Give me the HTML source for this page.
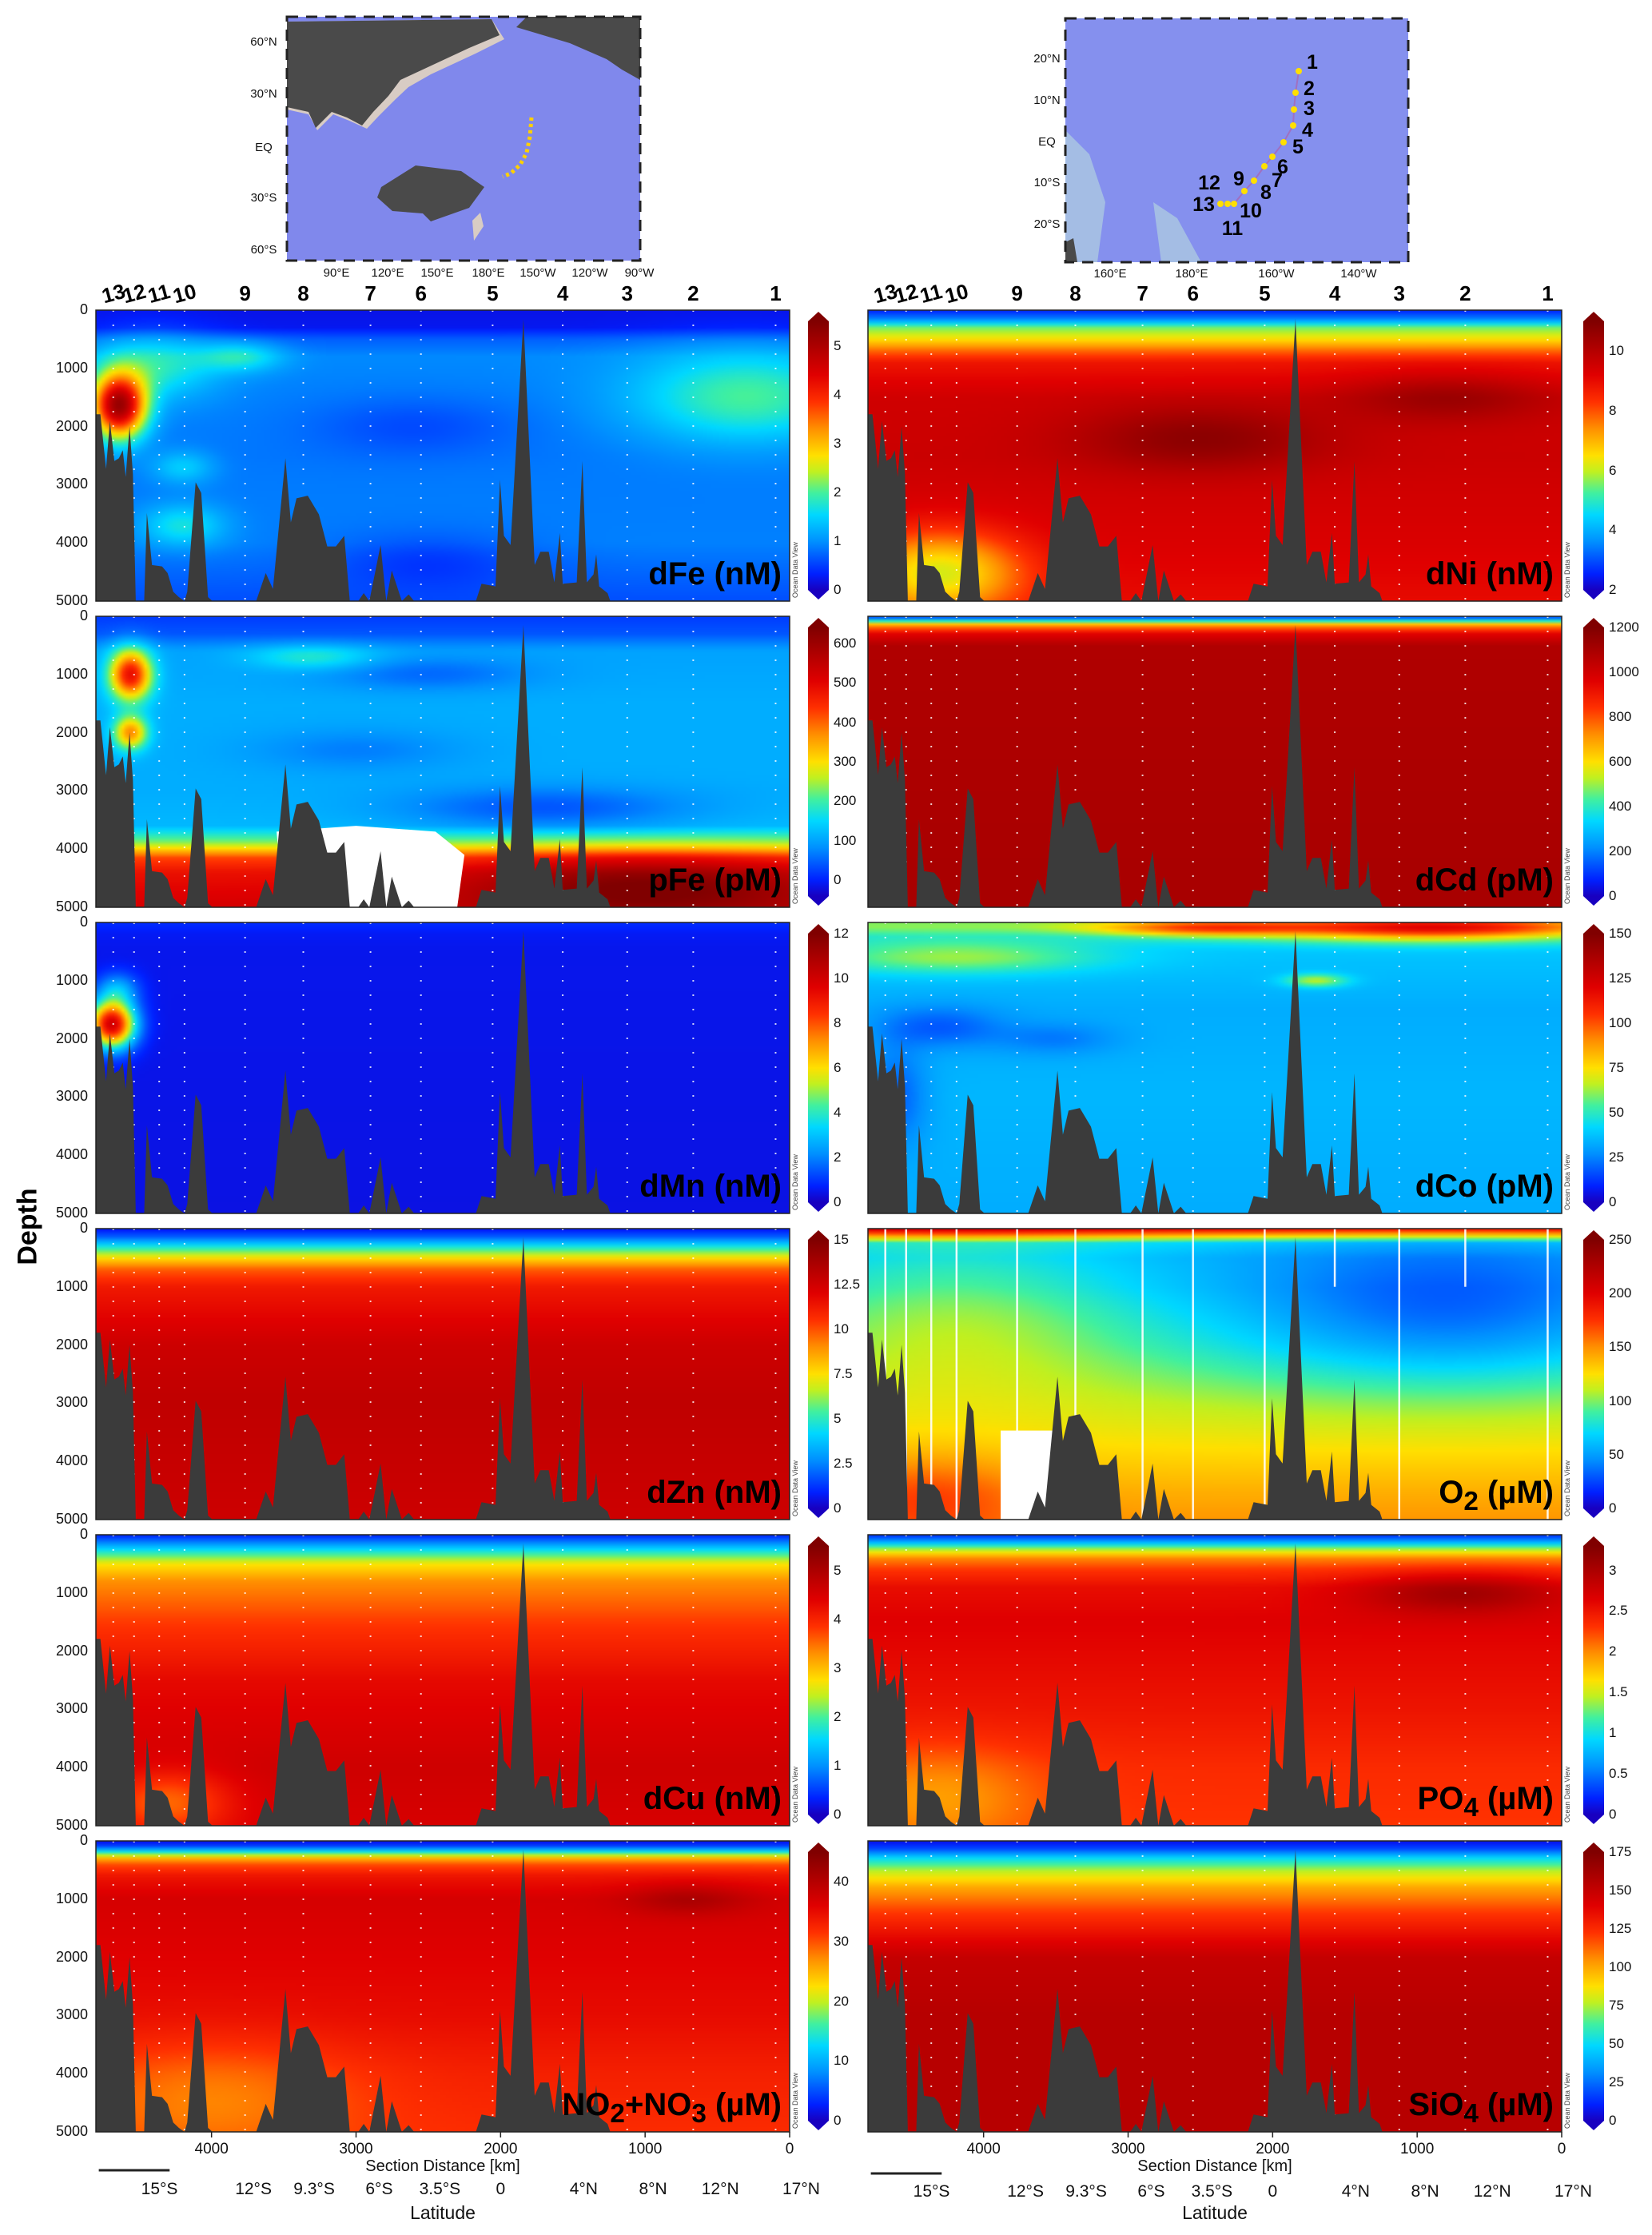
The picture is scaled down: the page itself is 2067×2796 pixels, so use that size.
<!DOCTYPE html>
<html><head><meta charset="utf-8">
<style>
body{margin:0;background:#fff;}
#root{position:relative;width:2067px;height:2796px;overflow:hidden;background:#fff;font-family:"Liberation Sans",Arial,sans-serif;}
.abs{position:absolute;}
.tick{position:absolute;font-size:18px;color:#111;}
.plabel{position:absolute;font-weight:bold;font-size:40px;color:#000;white-space:nowrap;}
.cb{position:absolute;}
.stn{position:absolute;font-weight:bold;font-size:26px;color:#000;}
.odv{position:absolute;font-size:9px;color:#444;transform:rotate(-90deg);transform-origin:left top;white-space:nowrap;}
</style></head>
<body>
<div id="root">
<svg id="maps" class="abs" style="left:0;top:0" width="2067" height="360"></svg>
<svg id="ov" class="abs" style="left:0;top:0;z-index:3" width="2067" height="2796"></svg>
</div>
<script>
// ---------- data ----------
const stations=[4680,4536,4362,4187,3768,3365,2900,2551,2055,1570,1124,667,97];
const stationLabels=['13','12','11','10','9','8','7','6','5','4','3','2','1'];
const bathyDist=[4800,4800,4769,4730,4703,4672,4641,4614,4594,4567,4544,4524,4466,4447,4412,4342,4304,4265,4226,4187,4168,4110,4071,4024,3993,3691,3625,3575,3489,3451,3412,3334,3257,3199,3140,3082,3043,2985,2947,2908,2830,2791,2753,2683,2636,2598,2171,2132,2035,2004,1977,1931,1842,1764,1725,1667,1628,1590,1570,1473,1434,1403,1357,1338,1318,1260,1241];
const bathyDepth=[5000,1789,1789,2729,1904,2592,2546,2408,2867,1995,2821,5000,5000,3486,4381,4404,4518,4839,4931,5000,4839,2959,3142,4931,5000,5000,4518,4793,2546,3647,3234,3188,3509,4060,4060,3876,5000,5000,4862,5000,4037,5000,4472,5000,4885,5000,5000,4702,4747,2913,3876,4037,150,4381,4151,4151,4679,3830,4702,4679,2592,4679,4541,4197,4747,4862,5000];
const depthTicks=[0,1000,2000,3000,4000,5000];
const distTicks=[4000,3000,2000,1000,0];
const latLabels=['15°S','12°S','9.3°S','6°S','3.5°S','0','4°N','8°N','12°N','17°N'];
const latDist=[4360,3710,3290,2840,2420,2000,1425,945,480,-80];

const dFeZ=[0,300,500,800,1500,2500,4000,5000], dFeV=[0.2,0.25,0.7,0.95,0.9,0.85,0.9,0.6];
const dFeBlobs=[[4640,1650,130,380,4.2],[4400,950,300,400,0.9],[3800,800,200,180,0.8],[4200,2700,150,200,0.6],[4200,3700,200,250,0.8],[300,1500,550,550,1.1],[2600,2000,500,350,-0.3],[2500,4300,500,350,-0.35]];
const pFeZ=[0,300,600,1500,3000,3600,3900,4150,4400,5000], pFeV=[20,40,100,110,110,120,240,420,480,520];
const pFeBlobs=[[4560,1000,100,300,380],[4560,2000,80,200,260],[3300,700,300,150,80],[1700,3300,700,250,-75],[2500,1000,500,200,-50],[1000,4650,900,400,150],[3000,2300,500,250,-40]];
const dMnZ=[0,200,500,5000], dMnV=[0.9,0.6,0.5,0.4];
const dMnBlobs=[[4690,1750,110,280,9.5],[4650,1150,100,200,2]];
const dZnZ=[0,150,300,500,700,1000,2000,3000,5000], dZnV=[0.6,2,4.5,7.5,9.8,11.2,12.6,13,12.6];
const dZnBlobs=[];
const dCuZ=[0,150,300,500,800,1500,2500,4000,5000], dCuV=[0.3,1.0,1.8,2.7,3.3,3.8,4.3,4.6,4.5];
const dCuBlobs=[[4300,4600,300,400,-1.0]];
const no3Z=[0,100,200,300,400,600,1000,2000,3000,4000,5000], no3V=[1,5,15,25,30,34,37,36,35,33,32];
const no3Blobs=[[4000,4400,700,700,-5],[700,1000,300,200,4]];
const dNiZ=[0,150,300,500,700,900,1500,2500,4000,5000], dNiV=[2.5,3.5,5.5,6.5,7.8,8.8,9.5,9.6,9.3,9];
const dNiBlobs=[[2500,2200,600,400,1.2],[800,1500,500,300,1.0],[4300,4500,400,500,-3]];
const dCdZ=[0,60,150,300,500,5000], dCdV=[50,300,700,950,1080,1100];
const dCdBlobs=[];
const dCoZ=[0,100,250,500,1500,3000,5000], dCoV=[60,60,45,38,33,35,33];
const dCoBlobs=[[900,100,800,150,60],[2500,100,500,100,40],[1700,1000,150,80,30],[4300,1800,300,250,-15],[3500,2000,300,200,-10],[4600,3000,150,600,-15],[4200,600,700,200,25]];
const o2Z=[0,100,250,500,1000,2000,3000,4000,4500,5000], o2V=[205,150,70,60,65,85,110,130,140,148];
const o2Blobs=[[800,1500,1000,900,-40],[4200,1500,800,1000,30],[4400,4600,500,500,30]];
const po4Z=[0,100,250,400,600,900,1500,3000,4000,5000], po4V=[0.2,0.6,1.4,2.0,2.3,2.55,2.65,2.5,2.35,2.3];
const po4Blobs=[[700,1000,500,250,0.5],[4300,4500,500,600,-0.4]];
const siZ=[0,150,300,500,800,1200,2000,3000,5000], siV=[5,20,50,75,100,120,150,155,155];
const siBlobs=[];

const cbTicks={
 dFe:[0,1,2,3,4,5], pFe:[0,100,200,300,400,500,600], dMn:[0,2,4,6,8,10,12], dZn:[0,2.5,5,7.5,10,12.5,15],
 dCu:[0,1,2,3,4,5], no3:[0,10,20,30,40], dNi:[2,4,6,8,10], dCd:[0,200,400,600,800,1000,1200],
 dCo:[0,25,50,75,100,125,150], o2:[0,50,100,150,200,250], po4:[0,0.5,1,1.5,2,2.5,3], si:[0,25,50,75,100,125,150,175]};

const panels=[
 {id:'dFe',col:0,row:0,min:0,max:5.5,z:dFeZ,v:dFeV,b:dFeBlobs,label:'dFe (nM)'},
 {id:'pFe',col:0,row:1,min:-40,max:640,z:pFeZ,v:pFeV,b:pFeBlobs,label:'pFe (pM)'},
 {id:'dMn',col:0,row:2,min:0,max:12,z:dMnZ,v:dMnV,b:dMnBlobs,label:'dMn (nM)'},
 {id:'dZn',col:0,row:3,min:0,max:15,z:dZnZ,v:dZnV,b:dZnBlobs,label:'dZn (nM)'},
 {id:'dCu',col:0,row:4,min:0,max:5.5,z:dCuZ,v:dCuV,b:dCuBlobs,label:'dCu (nM)'},
 {id:'no3',col:0,row:5,min:0,max:45,z:no3Z,v:no3V,b:no3Blobs,label:'NO<sub>2</sub>+NO<sub>3</sub> (µM)'},
 {id:'dNi',col:1,row:0,min:2,max:11,z:dNiZ,v:dNiV,b:dNiBlobs,label:'dNi (nM)'},
 {id:'dCd',col:1,row:1,min:0,max:1200,z:dCdZ,v:dCdV,b:dCdBlobs,label:'dCd (pM)'},
 {id:'dCo',col:1,row:2,min:0,max:150,z:dCoZ,v:dCoV,b:dCoBlobs,label:'dCo (pM)'},
 {id:'o2',col:1,row:3,min:0,max:250,z:o2Z,v:o2V,b:o2Blobs,label:'O<sub>2</sub> (µM)'},
 {id:'po4',col:1,row:4,min:0,max:3.3,z:po4Z,v:po4V,b:po4Blobs,label:'PO<sub>4</sub> (µM)'},
 {id:'si',col:1,row:5,min:0,max:175,z:siZ,v:siV,b:siBlobs,label:'SiO<sub>4</sub> (µM)'}];

const colX=[120,1086], cbX=[1011,1981], W=868, H=364, rowTop=[388,771,1154,1537,1920,2303];
const cmap=[[0,[24,0,192]],[0.06,[0,32,255]],[0.18,[0,144,255]],[0.28,[0,216,255]],[0.36,[64,240,160]],[0.44,[192,240,32]],[0.5,[255,224,0]],[0.6,[255,144,0]],[0.7,[255,48,0]],[0.8,[224,0,0]],[0.9,[176,0,0]],[1,[128,0,0]]];
function col(t){t=Math.max(0,Math.min(1,t));for(let i=1;i<cmap.length;i++){if(t<=cmap[i][0]){const a=cmap[i-1],b=cmap[i],f=(t-a[0])/(b[0]-a[0]);return [0,1,2].map(k=>Math.round(a[1][k]+f*(b[1][k]-a[1][k])));}}return cmap[cmap.length-1][1];}
function interp(zs,vs,z){if(z<=zs[0])return vs[0];for(let i=1;i<zs.length;i++){if(z<=zs[i]){const f=(z-zs[i-1])/(zs[i]-zs[i-1]);return vs[i-1]+f*(vs[i]-vs[i-1]);}}return vs[vs.length-1];}
const xs=(c,d)=>colX[c]+(4800-d)/4800*W;
const ys=(r,z)=>rowTop[r]+z/5000*H;
const NS='http://www.w3.org/2000/svg';
const root=document.getElementById('root'), ov=document.getElementById('ov');
function svgEl(tag,attrs,parent){const e=document.createElementNS(NS,tag);for(const k in attrs)e.setAttribute(k,attrs[k]);(parent||ov).appendChild(e);return e;}
function div(cls,style,html){const e=document.createElement('div');e.className=cls;e.style.cssText=style;if(html!==undefined)e.innerHTML=html;root.appendChild(e);return e;}

panels.forEach(p=>{
 const L=colX[p.col], T=rowTop[p.row];
 const cw=217,ch=91;
 const cv=document.createElement('canvas');cv.width=cw;cv.height=ch;
 cv.style.cssText=`position:absolute;left:${L}px;top:${T}px;width:${W}px;height:${H}px;z-index:1`;
 
 
 const ctx=cv.getContext('2d');const img=ctx.createImageData(cw,ch);
 for(let j=0;j<ch;j++){const z=(j+0.5)/ch*5000;const base=interp(p.z,p.v,z);
  for(let i=0;i<cw;i++){const d=4800-(i+0.5)/cw*4800;let v=base;
   for(const b of p.b){const dx=(d-b[0])/b[2],dz=(z-b[1])/b[3];v+=b[4]*Math.exp(-0.5*(dx*dx+dz*dz));}
   const c=col((v-p.min)/(p.max-p.min));const o=(j*cw+i)*4;img.data[o]=c[0];img.data[o+1]=c[1];img.data[o+2]=c[2];img.data[o+3]=255;}}
 ctx.putImageData(img,0,0);root.appendChild(cv);

 const g=svgEl('g',{});
 
 
 if(p.id==='pFe'){const pts=[[3550,3700],[3000,3600],[2450,3700],[2250,4100],[2300,5000],[3500,5000]].map(q=>xs(p.col,q[0])+','+ys(p.row,q[1])).join(' ');
  const e=svgEl('polygon',{points:pts,fill:'#fff'},g);}
 if(p.id==='o2'){const e=svgEl('rect',{x:xs(1,3882),y:ys(p.row,3470),width:xs(1,3517)-xs(1,3882),height:ys(p.row,5000)-ys(p.row,3470),fill:'#fff'},g);}
 stations.forEach((s,k)=>{const x=xs(p.col,s);
  const e=(p.id==='o2')?svgEl('line',{x1:x,x2:x,y1:T,y2:T+H*((k===9||k===11)?0.2:1),stroke:'#fff','stroke-width':2.5,opacity:0.9},g)
   :svgEl('line',{x1:x,x2:x,y1:T,y2:T+H,stroke:'#fff','stroke-width':2,'stroke-dasharray':'2 16',opacity:0.8},g);
  });
 const bp=bathyDist.map((d,i)=>xs(p.col,d).toFixed(1)+','+ys(p.row,bathyDepth[i]).toFixed(1)).join(' ');
 const bt=svgEl('polygon',{points:bp,fill:'#3b3b3b'},g);
 
 const fr=svgEl('rect',{x:L,y:T,width:W,height:H,fill:'none',stroke:'#222','stroke-width':1.5},g);
 
 if(p.col===0){depthTicks.forEach(z=>{const t=div('tick',`left:${L-70}px;top:${ys(p.row,z)-11}px;width:60px;text-align:right;z-index:4`,String(z));
  });}
 const lb=div('plabel',`right:${2067-(L+W-10)}px;top:${T+H-56}px;z-index:5`,p.label);
 
 const od=div('odv',`left:${L+W+2}px;top:${T+H-4}px;z-index:5`,'Ocean Data View');
 
 const cx=cbX[p.col],ct=T+14,cbH=H-28;
 const stops=cmap.map(s=>`rgb(${s[1].join(',')}) ${s[0]*100}%`).join(',');
 const cb=div('cb',`left:${cx}px;top:${ct}px;width:26px;height:${cbH}px;background:linear-gradient(to top,${stops});z-index:2`);
 
 const up=svgEl('polygon',{points:`${cx},${ct} ${cx+13},${ct-12} ${cx+26},${ct}`,fill:'#800000'},g);
 
 const dn=svgEl('polygon',{points:`${cx},${ct+cbH} ${cx+13},${ct+cbH+12} ${cx+26},${ct+cbH}`,fill:'#1800c0'},g);
 
 cbTicks[p.id].forEach(v=>{const y=ct+cbH-(v-p.min)/(p.max-p.min)*cbH;
  const t=div('tick',`left:${cx+32}px;top:${y-10}px;font-size:17px;z-index:4`,String(v));
  });
});

[0,1].forEach(c=>{stations.forEach((s,k)=>{const x=xs(c,s);const rot=k<4?'transform:rotate(-15deg);':'';
 const e=div('stn',`left:${x-16}px;top:352px;width:32px;text-align:center;${rot}z-index:4`,stationLabels[k]);
 });});

[0,1].forEach(c=>{
 distTicks.forEach(d=>{const x=xs(c,d);
  const tl=svgEl('line',{x1:x,x2:x,y1:2667,y2:2674,stroke:'#222','stroke-width':1.5});
  
  const t=div('tick',`left:${x-30}px;top:2678px;width:60px;text-align:center;font-size:19px`,String(d));
  });
 const cx=colX[c]+W/2;
 const st=div('tick',`left:${cx-150}px;top:2699px;width:300px;text-align:center;font-size:20px`,'Section Distance [km]');
 
 latLabels.forEach((l,k)=>{const x=xs(c,latDist[k]);
  const t=div('tick',`left:${x-35}px;top:${2727+c*3}px;width:70px;text-align:center;font-size:21px`,l);
  });
 const ln=svgEl('line',{x1:xs(c,4780),x2:xs(c,4290),y1:2715+c*4,y2:2715+c*4,stroke:'#222','stroke-width':3});
 
 const lt=div('tick',`left:${cx-100}px;top:2755px;width:200px;text-align:center;font-size:23px`,'Latitude');
 
});
const dep=div('abs','left:-20px;top:1515px;width:110px;text-align:center;font-size:34px;font-weight:bold;transform:rotate(-90deg)','Depth');


// ---------- maps ----------
const maps=document.getElementById('maps');
function M(tag,a,p){const e=document.createElementNS(NS,tag);for(const k in a)e.setAttribute(k,a[k]);(p||maps).appendChild(e);return e;}
const m1=M('g',{transform:'translate(359,21)'});
M('rect',{x:0,y:0,width:442,height:305,fill:'#8088ec'},m1);
M('polygon',{points:'0,6 256,3 272,28 236,46 180,72 152,88 135,104 115,124 100,140 78,130 58,122 38,142 27,122 0,116',fill:'#d8ccc4'},m1);
M('polygon',{points:'0,6 256,3 266,23 228,39 170,66 142,79 127,99 108,119 94,136 75,126 56,119 36,139 27,119 0,113',fill:'#4a4a4a'},m1);
M('polygon',{points:'287,13 354,33 400,53 419,66 442,79 442,0 300,0',fill:'#4a4a4a'},m1);
M('polygon',{points:'118,213 161,186 218,193 247,213 228,239 180,256 170,246 132,243 113,226',fill:'#4a4a4a'},m1);
M('polygon',{points:'232,255 242,245 246,262 234,280',fill:'#d8ccc4'},m1);
M('polyline',{points:'306,126 304,150 300,170 292,185 280,196 270,200',fill:'none',stroke:'#ffd000','stroke-width':5,'stroke-dasharray':'4 4'},m1);
M('rect',{x:0,y:0,width:442,height:305,fill:'none',stroke:'#222','stroke-width':3,'stroke-dasharray':'14 10'},m1);
const m2=M('g',{transform:'translate(1333,23)'});
M('rect',{x:0,y:0,width:429,height:305,fill:'#8590ee'},m2);
M('polygon',{points:'0,140 30,170 50,230 40,305 0,305',fill:'#a4bde4'},m2);
M('polygon',{points:'110,230 140,250 170,305 120,305',fill:'#a4bde4'},m2);
M('polygon',{points:'0,280 10,275 15,305 0,305',fill:'#4a4a4a'},m2);
M('polyline',{points:'292,66 288,93 286,114 285,134 273,155 259,173 249,185 236,203 224,216 211,232 190,232',fill:'none',stroke:'#a070c0','stroke-width':2},m2);
[[292,66],[288,93],[286,114],[285,134],[273,155],[259,173],[249,185],[236,203],[224,216],[211,232],[203,232],[194,232]].forEach(q=>M('circle',{cx:q[0],cy:q[1],r:4,fill:'#ffe000'},m2));
M('rect',{x:0,y:0,width:429,height:305,fill:'none',stroke:'#222','stroke-width':3,'stroke-dasharray':'14 10'},m2);
const mapStn=[[1642,77],[1638,110],[1638,135],[1636,162],[1624,183],[1605,208],[1598,225],[1584,240],[1550,223],[1565,263],[1542,285],[1513,228],[1506,255]];
mapStn.forEach((q,k)=>{const t=M('text',{x:q[0],y:q[1]+9,'font-size':25,'font-weight':'bold','font-family':'Liberation Sans, sans-serif','text-anchor':'middle',fill:'#000'});t.textContent=String(k+1);
 });
const mapLabels=[['60°N',330,57],['30°N',330,122],['EQ',330,189],['30°S',330,252],['60°S',330,317],
 ['90°E',421,346],['120°E',485,346],['150°E',547,346],['180°E',611,346],['150°W',673,346],['120°W',738,346],['90°W',800,346],
 ['20°N',1310,78],['10°N',1310,130],['EQ',1310,182],['10°S',1310,233],['20°S',1310,285],
 ['160°E',1389,347],['180°E',1491,347],['160°W',1597,347],['140°W',1700,347]];
mapLabels.forEach(l=>{const t=M('text',{x:l[1],y:l[2],'font-size':15,'font-family':'Liberation Sans, sans-serif','text-anchor':'middle',fill:'#111'});t.textContent=l[0];
 });
</script>
</body></html>
